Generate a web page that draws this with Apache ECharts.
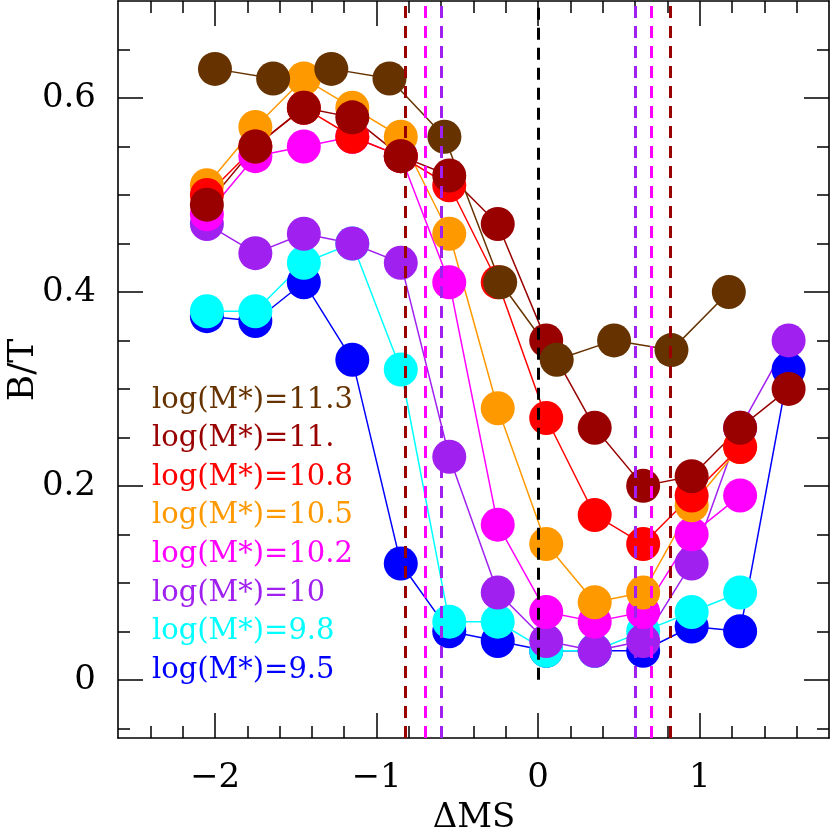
<!DOCTYPE html>
<html><head><meta charset="utf-8">
<script src="https://cdn.jsdelivr.net/npm/echarts@6/dist/echarts.min.js"></script>
<style>html,body{margin:0;padding:0;background:#fff}#c{width:830px;height:832px}</style>
</head><body><div id="c"></div>
<script>
// ---- data ----
const xBins = [-2.05,-1.75,-1.45,-1.15,-0.85,-0.55,-0.25,0.05,0.35,0.65,0.95,1.25,1.55];
const xBins113 = [-2.0,-1.64,-1.28,-0.92,-0.58,-0.235,0.115,0.47,0.825,1.18];
const names = ['log(M*)=11.3','log(M*)=11.','log(M*)=10.8','log(M*)=10.5','log(M*)=10.2','log(M*)=10','log(M*)=9.8','log(M*)=9.5'];
const colors = ['#663300','#990000','#FF0000','#FF9900','#FF00FF','#A020F0','#00FFFF','#0000FF'];
const bt113 = [0.63,0.62,0.63,0.62,0.56,0.41,0.33,0.35,0.34,0.40];
const bt110 = [0.49,0.55,0.59,0.58,0.54,0.52,0.47,0.35,0.26,0.20,0.21,0.26,0.30];
const bt108 = [0.50,0.55,0.59,0.56,0.54,0.51,0.41,0.27,0.17,0.14,0.19,0.24];
const bt105 = [0.51,0.57,0.62,0.59,0.56,0.46,0.28,0.14,0.08,0.09,0.18,0.24];
const bt102 = [0.48,0.54,0.55,0.56,0.54,0.41,0.16,0.07,0.06,0.07,0.15,0.19];
const bt100 = [0.47,0.44,0.46,0.45,0.43,0.23,0.09,0.04,0.03,0.04,0.12,0.26,0.35];
const bt98  = [0.38,0.38,0.43,0.45,0.32,0.06,0.06,0.03,0.03,0.05,0.07,0.09];
const bt95  = [0.375,0.37,0.41,0.33,0.12,0.05,0.04,0.03,0.03,0.03,0.055,0.05,0.32];
const dashLines = [
  {x:-0.82, color:'#990000'}, {x:0.82, color:'#990000'},
  {x:-0.70, color:'#FF00FF'}, {x:0.70, color:'#FF00FF'},
  {x:-0.60, color:'#A020F0'}, {x:0.60, color:'#A020F0'}
];
const xMajor = [-2,-1,0,1];
const xMinor = [-2.4,-2.2,-1.8,-1.6,-1.4,-1.2,-0.8,-0.6,-0.4,-0.2,0.2,0.4,0.6,0.8,1.2,1.4,1.6];
const yMajor = [0,0.2,0.4,0.6];
const yMinor = [-0.05,0.05,0.1,0.15,0.25,0.3,0.35,0.45,0.5,0.55,0.65];

// ---- chart ----
const FONT = '"DejaVu Serif", serif';
const ys = [bt113,bt110,bt108,bt105,bt102,bt100,bt98,bt95];
const xs = [xBins113,xBins,xBins,xBins,xBins,xBins,xBins,xBins];

function axis(kind, pos, ticks, len, labels, line){
  return {
    type:'value', position:pos,
    min: kind==='x' ? -2.6 : -0.06,
    max: kind==='x' ? 1.8 : 0.70,
    axisLine:{show:line, onZero:false, lineStyle:{color:'#000', width:1.6}},
    axisTick:{show:true, inside:true, length:len, customValues:ticks, lineStyle:{color:'#000', width:1.5}},
    axisLabel:{show:labels, customValues:ticks, margin: kind==='x'?23:22,
      fontFamily:FONT, fontSize:34, color:'#000',
      formatter:v=>String(v).replace('-','\u2212')},
    splitLine:{show:false}, minorTick:{show:false}
  };
}

const series = [];
for (let i = names.length-1; i >= 0; i--) {
  series.push({
    type:'line', name:names[i],
    data: ys[i].map((v,k)=>[xs[i][k], v]),
    symbol:'circle', symbolSize:34, showSymbol:true,
    itemStyle:{color:colors[i], opacity:1},
    lineStyle:{color:colors[i], width:1.5},
    emphasis:{disabled:true}, animation:false
  });
}
const ml = dashLines.map(d=>({xAxis:d.x, lineStyle:{color:d.color, type:[12,8], width:3}}));
ml.push([{coord:[0,0], lineStyle:{color:'#000', type:[12,8], width:3}},{coord:[0,0.70]}]);
series.push({
  type:'line', data:[], z:10, animation:false,
  markLine:{silent:true, symbol:['none','none'], label:{show:false}, animation:false, data:ml}
});

const graphic = names.map((n,i)=>({
  type:'text', x:152, y:400 + i*38.6, z:20,
  style:{text:n, fill:colors[i], font:'29px "DejaVu Serif"', align:'left', verticalAlign:'middle'}
}));
graphic.push({type:'text', x:24, y:370, rotation:Math.PI/2, z:20,
  style:{text:'B/T', fill:'#000', font:'36px "DejaVu Serif"', align:'center', verticalAlign:'middle'}});
graphic.push({type:'text', x:474, y:818, z:20,
  style:{text:'\u0394MS', fill:'#000', font:'34px "DejaVu Serif"', align:'center', verticalAlign:'middle'}});

const chart = echarts.init(document.getElementById('c'));
chart.setOption({
  animation:false,
  backgroundColor:'#fff',
  grid:{left:118, right:1, top:1, bottom:94, containLabel:false},
  xAxis:[
    axis('x','bottom',xMajor,25,true,true),
    axis('x','bottom',xMinor,12,false,false),
    axis('x','top',xMajor,25,false,true),
    axis('x','top',xMinor,12,false,false)
  ],
  yAxis:[
    axis('y','left',yMajor,25,true,true),
    axis('y','left',yMinor,12,false,false),
    axis('y','right',yMajor,25,false,true),
    axis('y','right',yMinor,12,false,false)
  ],
  series:series,
  graphic:graphic
});
</script></body></html>
